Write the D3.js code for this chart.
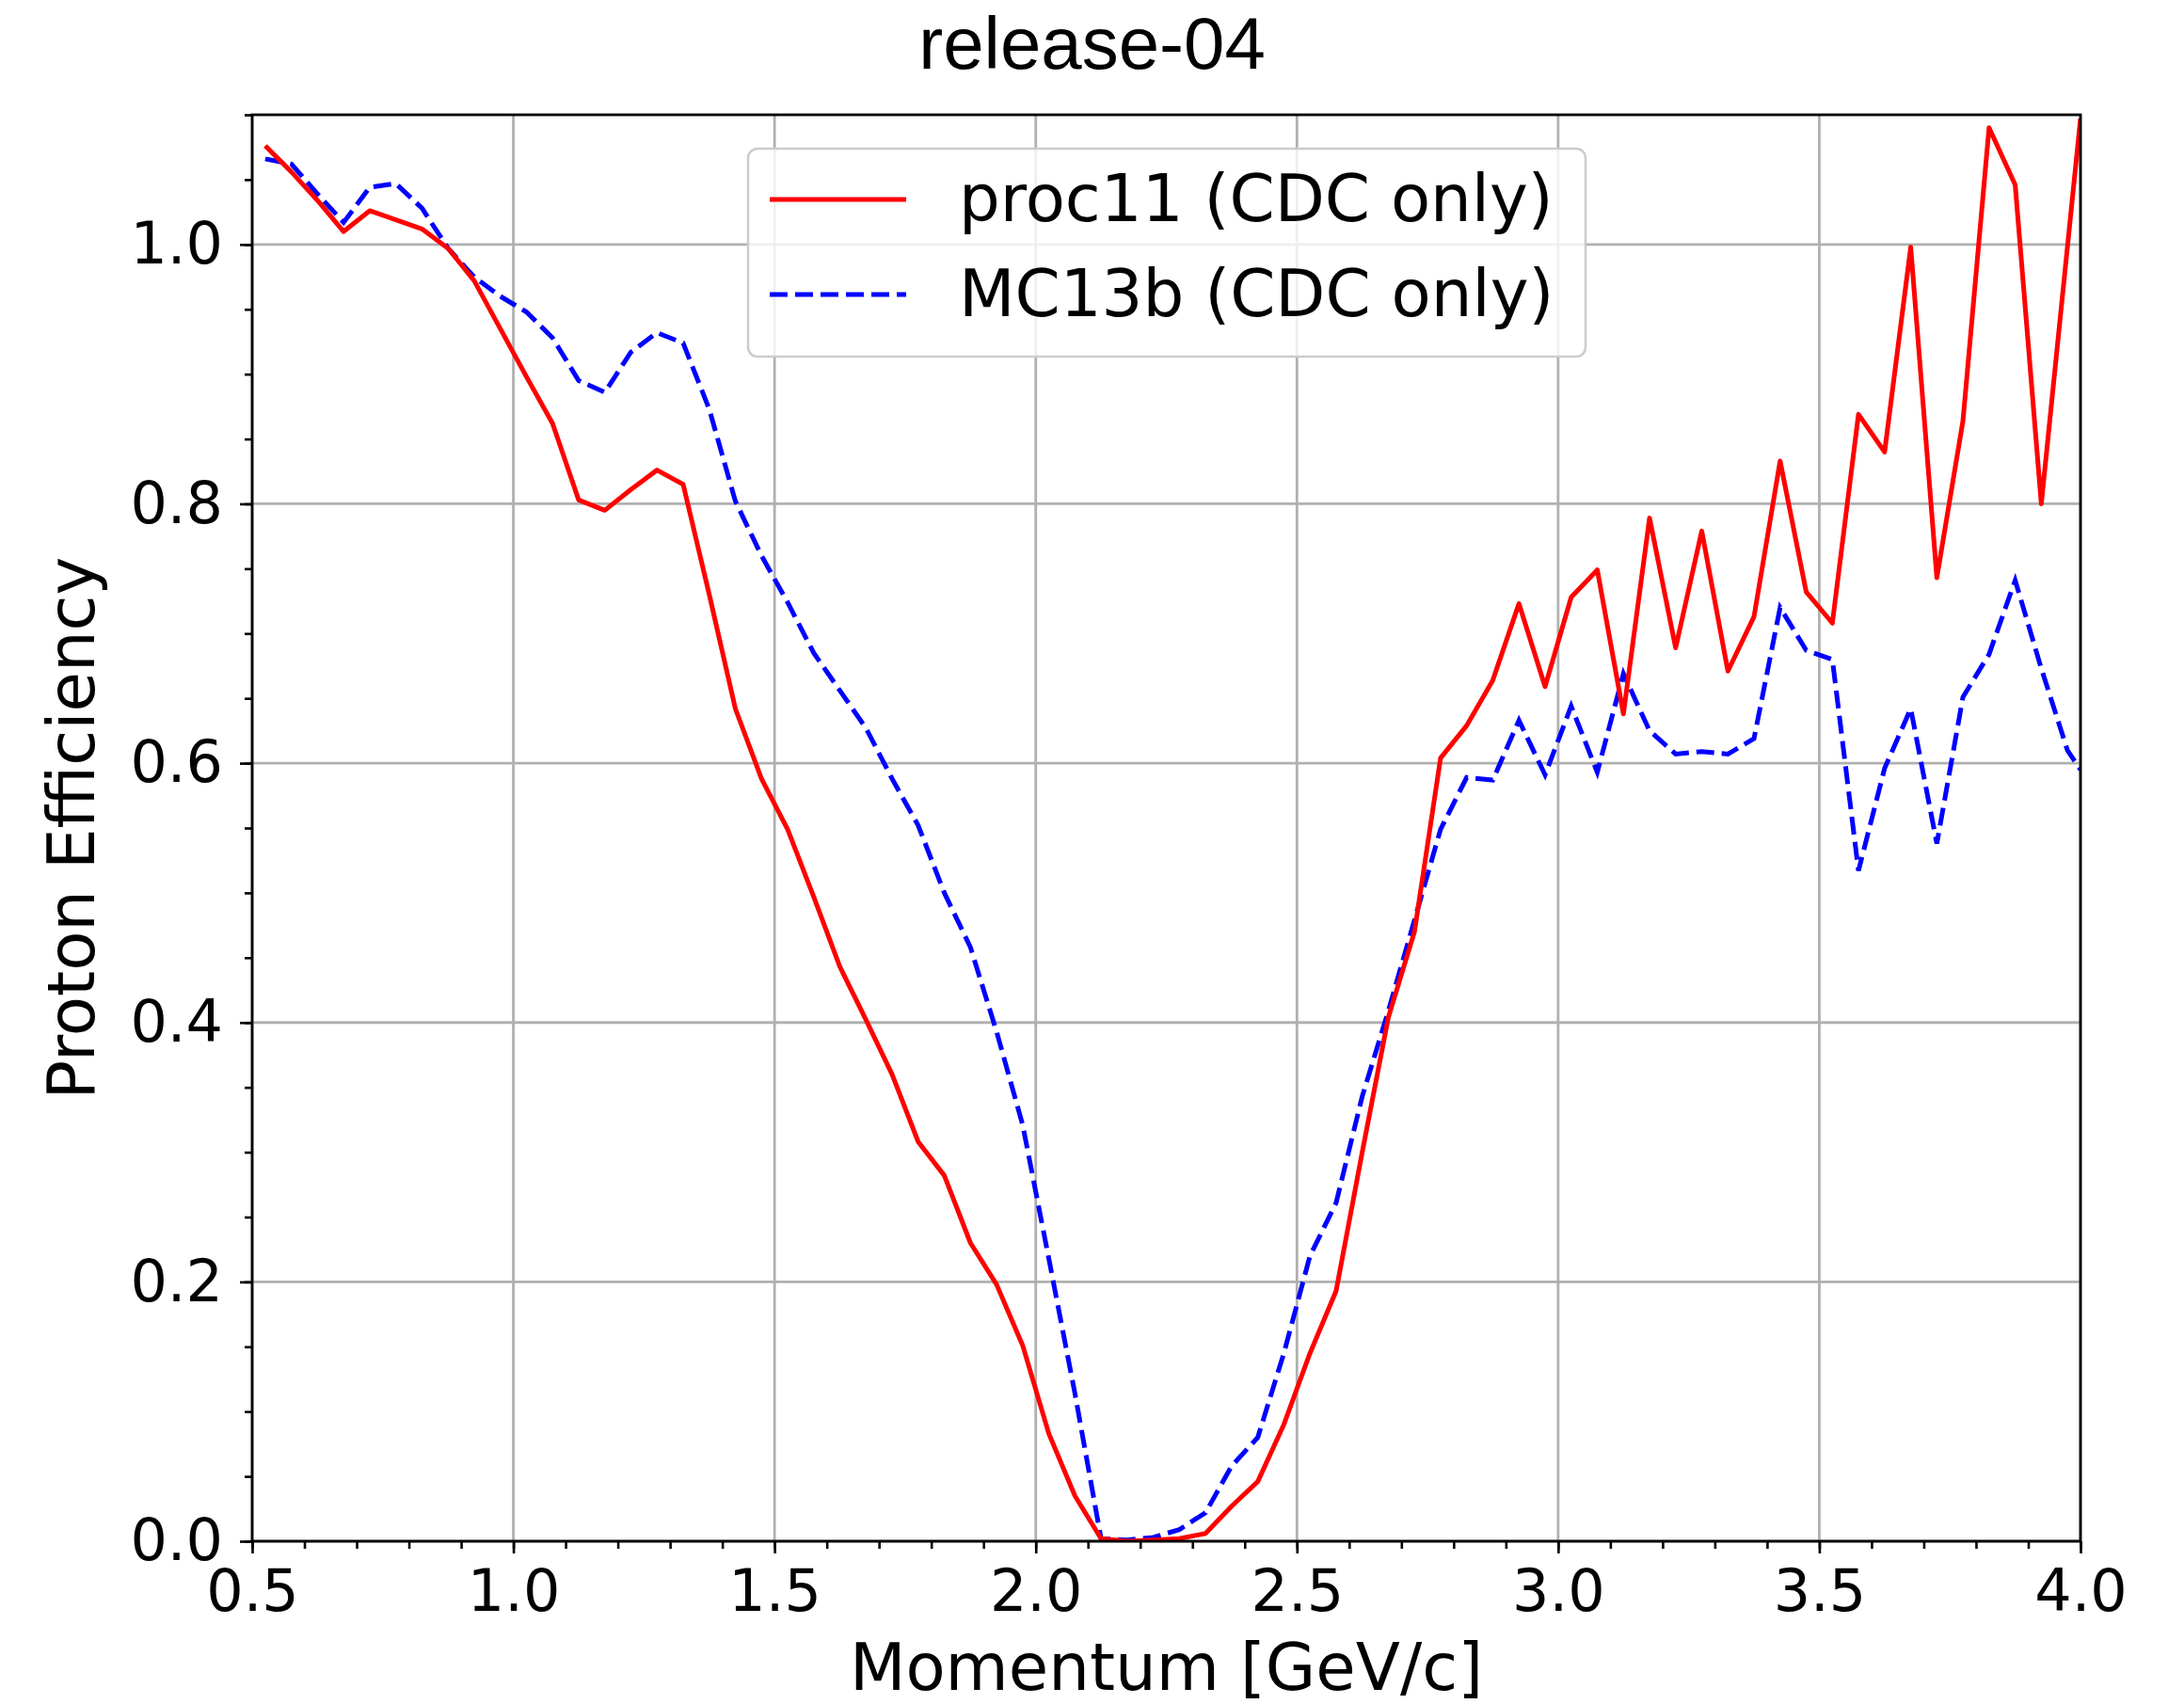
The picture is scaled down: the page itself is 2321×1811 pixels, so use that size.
<!DOCTYPE html>
<html>
<head>
<meta charset="utf-8">
<script src="https://cdn.jsdelivr.net/npm/d3@7"></script>
<style>
  body { margin: 0; background: #fff; }
  svg { display: block; }
</style>
</head>
<body>
<script>
// momentum bin centres [GeV/c]
const momentum = [
  0.525, 0.575, 0.625, 0.675, 0.725, 0.775, 0.825, 0.875, 0.925, 0.975,
  1.025, 1.075, 1.125, 1.175, 1.225, 1.275, 1.325, 1.375, 1.425, 1.475,
  1.525, 1.575, 1.625, 1.675, 1.725, 1.775, 1.825, 1.875, 1.925, 1.975,
  2.025, 2.075, 2.125, 2.175, 2.225, 2.275, 2.325, 2.375, 2.425, 2.475,
  2.525, 2.575, 2.625, 2.675, 2.725, 2.775, 2.825, 2.875, 2.925, 2.975,
  3.025, 3.075, 3.125, 3.175, 3.225, 3.275, 3.325, 3.375, 3.425, 3.475,
  3.525, 3.575, 3.625, 3.675, 3.725, 3.775, 3.825, 3.875, 3.925, 3.975,
  4.000
];

// proc11 (CDC only)
const proc11 = [
  1.076, 1.056, 1.034, 1.010, 1.026, 1.019, 1.012, 0.997, 0.972, 0.935,
  0.898, 0.862, 0.803, 0.795, 0.811, 0.826, 0.815, 0.730, 0.642, 0.588,
  0.549, 0.497, 0.443, 0.402, 0.360, 0.308, 0.282, 0.230, 0.198, 0.151,
  0.083, 0.035, 0.002, 0.000, 0.001, 0.002, 0.006, 0.027, 0.046, 0.090,
  0.145, 0.193, 0.300, 0.404, 0.470, 0.604, 0.629, 0.664, 0.723, 0.659,
  0.728, 0.749, 0.638, 0.789, 0.689, 0.779, 0.671, 0.713, 0.833, 0.732,
  0.708, 0.869, 0.840, 0.998, 0.743, 0.864, 1.090, 1.046, 0.800, 0.998,
  1.097
];

// MC13b (CDC only)
const mc13b = [
  1.066, 1.062, 1.039, 1.017, 1.044, 1.047, 1.028, 0.997, 0.975, 0.960,
  0.948, 0.928, 0.895, 0.886, 0.917, 0.932, 0.924, 0.873, 0.802, 0.760,
  0.724, 0.685, 0.656, 0.627, 0.588, 0.552, 0.500, 0.458, 0.393, 0.321,
  0.218, 0.114, 0.002, 0.001, 0.003, 0.009, 0.022, 0.058, 0.080, 0.145,
  0.220, 0.261, 0.343, 0.409, 0.479, 0.549, 0.589, 0.587, 0.633, 0.591,
  0.644, 0.593, 0.669, 0.625, 0.607, 0.609, 0.607, 0.619, 0.720, 0.687,
  0.680, 0.517, 0.596, 0.642, 0.538, 0.651, 0.684, 0.741, 0.673, 0.610,
  0.595
];

const xTicks = [0.5, 1.0, 1.5, 2.0, 2.5, 3.0, 3.5, 4.0];
const yTicks = [0.0, 0.2, 0.4, 0.6, 0.8, 1.0];
const xMinor = d3.range(5, 41).map(d => d / 10);
const yMinor = d3.range(0, 23).map(d => d / 20);
const seriesNames = ['proc11 (CDC only)', 'MC13b (CDC only)'];

const W = 2321, H = 1811;
// plot box in pixels
const box = { left: 268, right: 2211, top: 122, bottom: 1638 };
const sans = "'DejaVu Sans', sans-serif";
const lineW = 5;

const svg = d3.select('body').append('svg')
  .attr('width', W)
  .attr('height', H);

const x = d3.scaleLinear().domain([0.5, 4.0]).range([box.left, box.right]);
const y = d3.scaleLinear().domain([0, 1.1]).range([box.bottom, box.top]);

// grid lines
const grid = svg.append('g').attr('stroke', '#b0b0b0').attr('stroke-width', 2.8);
grid.selectAll('.gx').data(xTicks).enter().append('line')
  .attr('x1', d => x(d)).attr('x2', d => x(d))
  .attr('y1', box.top).attr('y2', box.bottom);
grid.selectAll('.gy').data(yTicks).enter().append('line')
  .attr('x1', box.left).attr('x2', box.right)
  .attr('y1', d => y(d)).attr('y2', d => y(d));

// clip for the data lines
svg.append('clipPath').attr('id', 'plot')
  .append('rect')
  .attr('x', box.left).attr('y', box.top)
  .attr('width', box.right - box.left).attr('height', box.bottom - box.top);

const line = d3.line()
  .x((d, i) => x(momentum[i]))
  .y(d => y(d));

svg.append('path')
  .datum(mc13b)
  .attr('clip-path', 'url(#plot)')
  .attr('fill', 'none')
  .attr('stroke', '#0000ff')
  .attr('stroke-width', lineW)
  .attr('stroke-dasharray', '19,8')
  .attr('d', line);

svg.append('path')
  .datum(proc11)
  .attr('clip-path', 'url(#plot)')
  .attr('fill', 'none')
  .attr('stroke', '#ff0000')
  .attr('stroke-width', lineW)
  .attr('stroke-linejoin', 'round')
  .attr('d', line);

// axes: major ticks with labels, minor ticks without
const xAxis = d3.axisBottom(x).tickValues(xTicks).tickFormat(d3.format('.1f'))
  .tickSize(13).tickPadding(17);
const xAxisMinor = d3.axisBottom(x).tickValues(xMinor).tickFormat('').tickSize(8);
const yAxis = d3.axisLeft(y).tickValues(yTicks).tickFormat(d3.format('.1f'))
  .tickSize(13).tickPadding(18);
const yAxisMinor = d3.axisLeft(y).tickValues(yMinor).tickFormat('').tickSize(8);

function styleAxis(g) {
  g.select('.domain').remove();
  g.selectAll('line').attr('stroke', '#000').attr('stroke-width', 2.6);
  g.selectAll('text')
    .attr('fill', '#000')
    .style('font-family', sans)
    .style('font-size', '62px');
}

svg.append('g').attr('transform', `translate(0,${box.bottom})`).call(xAxisMinor).call(styleAxis);
svg.append('g').attr('transform', `translate(0,${box.bottom})`).call(xAxis).call(styleAxis);
svg.append('g').attr('transform', `translate(${box.left},0)`).call(yAxisMinor).call(styleAxis);
svg.append('g').attr('transform', `translate(${box.left},0)`).call(yAxis).call(styleAxis);

// frame
svg.append('rect')
  .attr('x', box.left).attr('y', box.top)
  .attr('width', box.right - box.left).attr('height', box.bottom - box.top)
  .attr('fill', 'none')
  .attr('stroke', '#000')
  .attr('stroke-width', 2.8);

// legend
const legend = svg.append('g');
legend.append('rect')
  .attr('x', 795).attr('y', 158)
  .attr('width', 890).attr('height', 221)
  .attr('rx', 10).attr('ry', 10)
  .attr('fill', '#fff').attr('fill-opacity', 0.8)
  .attr('stroke', '#cccccc').attr('stroke-width', 2.5);

const legendRows = [
  { name: seriesNames[0], color: '#ff0000', dash: null, cy: 212 },
  { name: seriesNames[1], color: '#0000ff', dash: '19,8', cy: 313 }
];
legendRows.forEach(r => {
  legend.append('line')
    .attr('x1', 818).attr('x2', 963)
    .attr('y1', r.cy).attr('y2', r.cy)
    .attr('stroke', r.color)
    .attr('stroke-width', lineW)
    .attr('stroke-dasharray', r.dash);
  legend.append('text')
    .attr('x', 1019).attr('y', r.cy + 23)
    .style('font-family', sans)
    .style('font-size', '69px')
    .text(r.name);
});

// axis titles
svg.append('text')
  .attr('x', (box.left + box.right) / 2).attr('y', 1796)
  .attr('text-anchor', 'middle')
  .style('font-family', sans)
  .style('font-size', '69px')
  .text('Momentum [GeV/c]');

svg.append('text')
  .attr('transform', `translate(100,${(box.top + box.bottom) / 2}) rotate(-90)`)
  .attr('text-anchor', 'middle')
  .style('font-family', sans)
  .style('font-size', '69px')
  .text('Proton Efficiency');

// title
svg.append('text')
  .attr('x', W / 2).attr('y', 73)
  .attr('text-anchor', 'middle')
  .style('font-family', "'Liberation Sans', Arial, sans-serif")
  .style('font-size', '78px')
  .text('release-04');
</script>
</body>
</html>
